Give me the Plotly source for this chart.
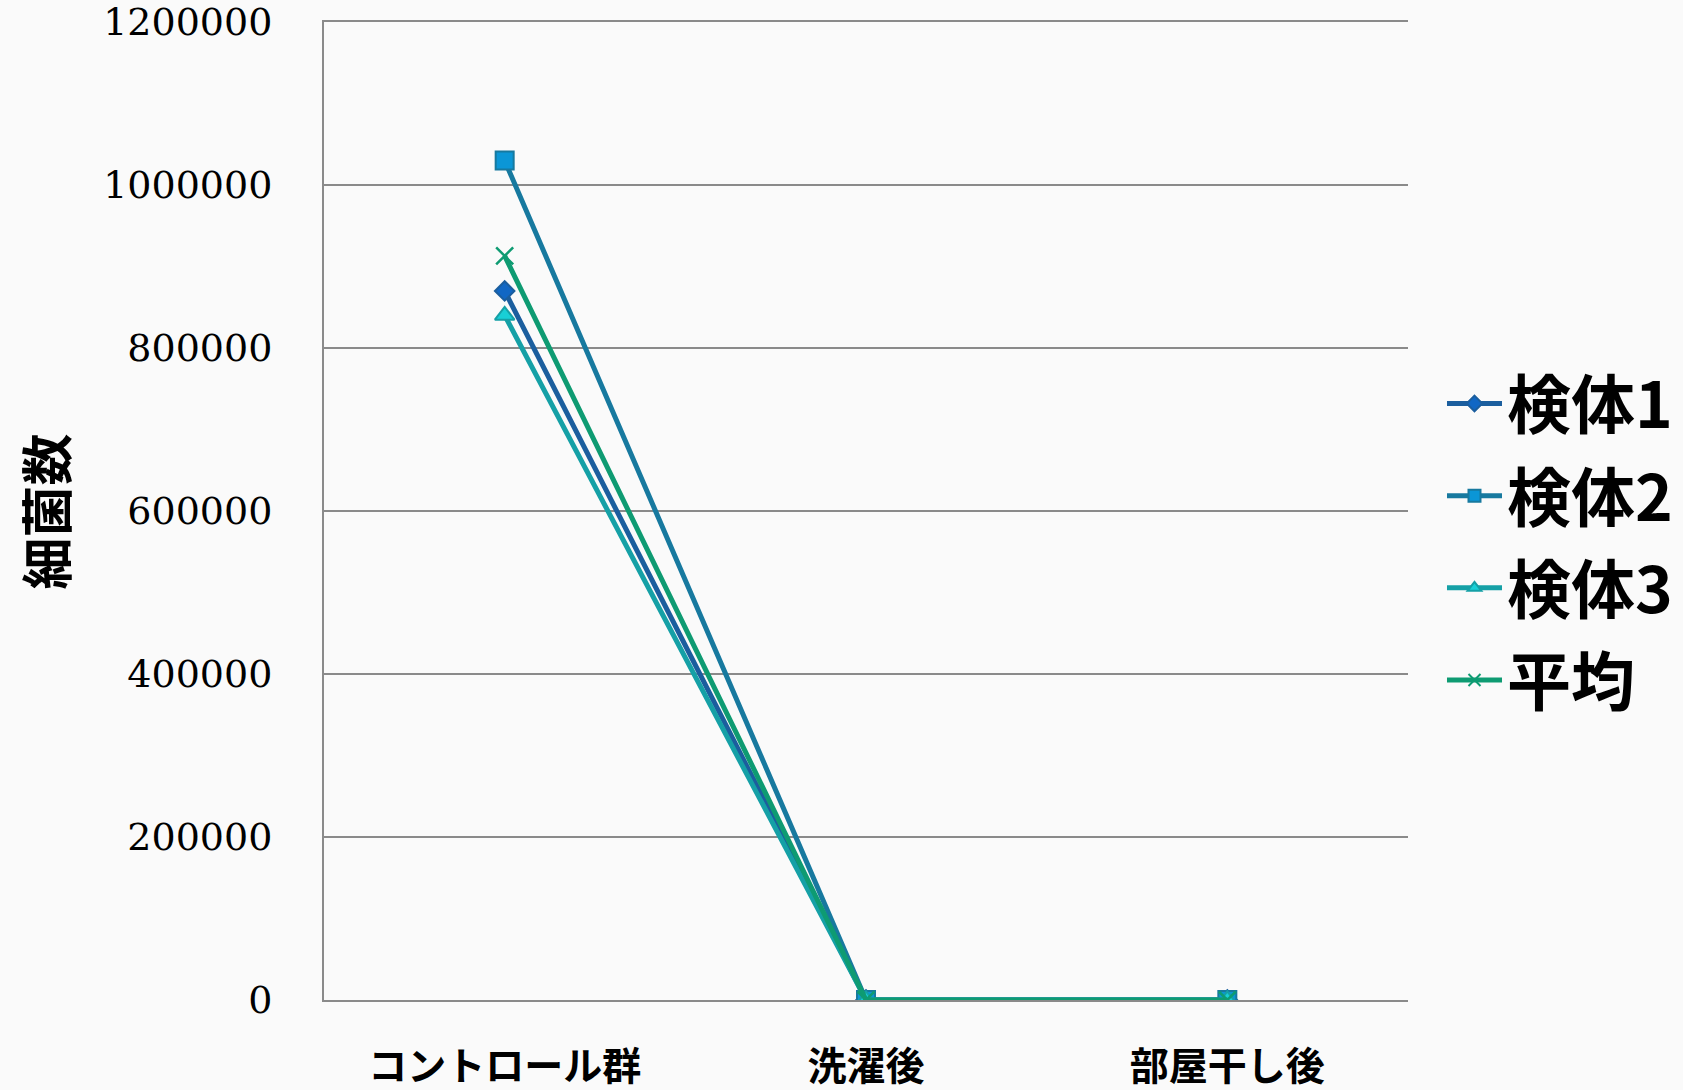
import plotly.graph_objects as go

categories = ["コントロール群", "洗濯後", "部屋干し後"]
series_names = ["検体1", "検体2", "検体3", "平均"]
s1 = [870000, 0, 0]
s2 = [1030000, 0, 0]
s3 = [840000, 0, 0]
avg = [913000, 0, 0]
y_ticks = [0, 200000, 400000, 600000, 800000, 1000000, 1200000]

line_colors = ["#1B5E9E", "#17799F", "#15A0A6", "#0E9B72"]
marker_colors = ["#1167C4", "#0B96D6", "#18CFD6", "#0E9B72"]
symbols = ["diamond", "square", "triangle-up", "x-thin"]
sizes = [15, 18, 17, 17]

fig = go.Figure()
for name, vals, lc, mc, sym, sz in zip(series_names, [s1, s2, s3, avg], line_colors, marker_colors, symbols, sizes):
    fig.add_trace(go.Scatter(
        x=categories, y=vals, name=name, mode="lines+markers", legendgroup=name,
        line=dict(color=lc, width=5),
        marker=dict(symbol=sym, size=sz, color=mc,
                    line=dict(color=lc, width=2 if sym != "x-thin" else 2.5)),
    ))

fig.update_layout(
    width=1683, height=1090,
    margin=dict(l=324, r=275, t=22, b=90),
    paper_bgcolor="#FAFAFA", plot_bgcolor="#FAFAFA",
    showlegend=True,
    legend=dict(xref="container", yref="container", x=0.8568, y=0.674,
                xanchor="left", yanchor="top",
                font=dict(family="Noto Sans CJK JP", size=64, color="#000000", weight="bold"),
                tracegroupgap=6, itemwidth=55, itemsizing="constant", bgcolor="rgba(0,0,0,0)"),
    xaxis=dict(type="category", range=[-0.5, 2.5], showgrid=False, layer="below traces",
               showline=True, mirror=True, linecolor="#8A8A8A", linewidth=1.5,
               zeroline=False, ticks="", automargin=False, ticklabelstandoff=31,
               tickfont=dict(family="Noto Sans CJK JP", size=39, color="#000000", weight="bold")),
    yaxis=dict(range=[0, 1200000], tickvals=y_ticks, tickformat="d", automargin=False,
               showgrid=True, gridcolor="#8A8A8A", gridwidth=1.5, layer="below traces",
               showline=True, linecolor="#8A8A8A", linewidth=2,
               zeroline=True, zerolinecolor="#8A8A8A", zerolinewidth=1.5,
               ticks="", ticklabelstandoff=42,
               tickfont=dict(family="DejaVu Serif", size=38, color="#000000")),
    annotations=[dict(text="細菌数", xref="paper", yref="paper", x=-0.2583, y=0.4995,
                      xanchor="center", yanchor="middle", textangle=-90, showarrow=False,
                      font=dict(family="Noto Sans CJK JP", size=52, color="#000000", weight="bold"))],
)
fig.write_html("out.html")
